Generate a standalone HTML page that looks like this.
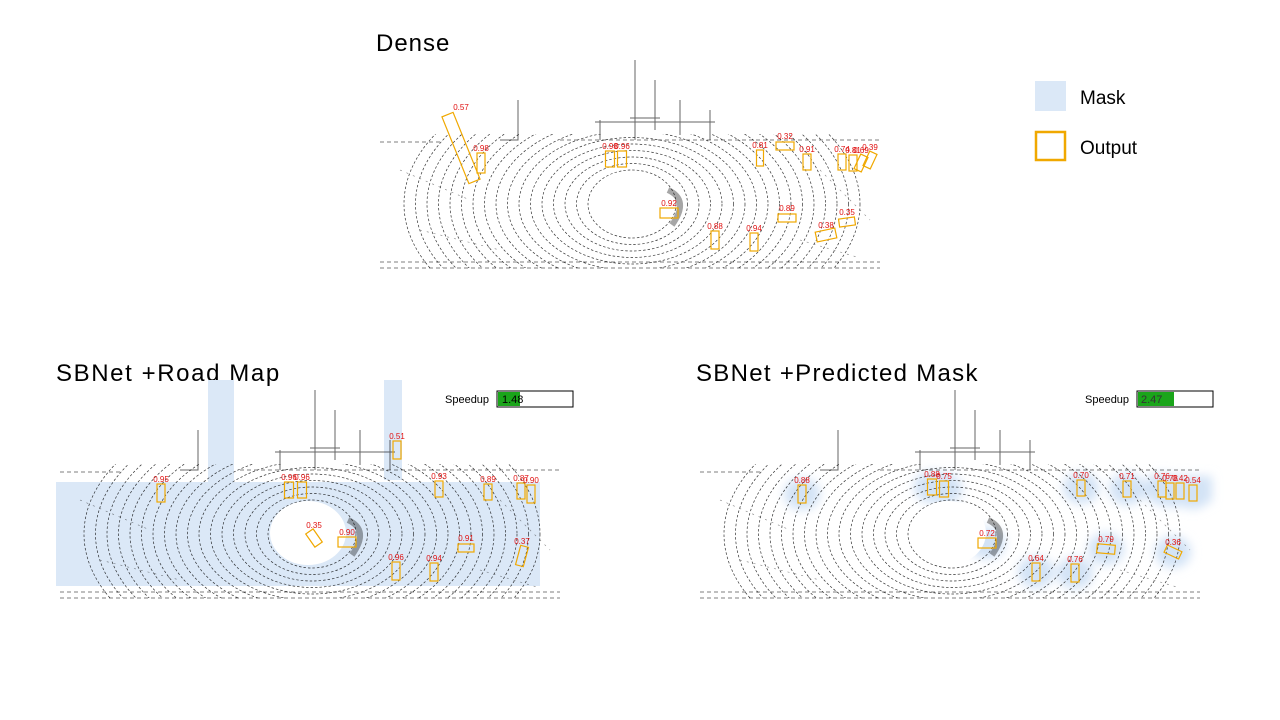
<!DOCTYPE html>
<html><head><meta charset="utf-8"><style>
html,body{margin:0;padding:0;background:#fff;}
svg{display:block;font-family:"Liberation Sans",sans-serif;}
</style></head><body>
<svg id="s" width="1280" height="720" viewBox="0 0 1280 720" xmlns="http://www.w3.org/2000/svg">
<defs>
<filter id="blur" x="-50%" y="-50%" width="200%" height="200%"><feGaussianBlur stdDeviation="5"/></filter>
<clipPath id="ring"><rect x="380" y="134" width="500" height="134"/></clipPath>
<clipPath id="c0"><rect x="378" y="60" width="505" height="212"/></clipPath>
<clipPath id="c1"><rect x="58" y="390" width="505" height="212"/></clipPath>
<clipPath id="c2"><rect x="698" y="390" width="505" height="212"/></clipPath>
</defs>
<text x="376" y="51" font-size="24" letter-spacing="1" fill="#000">Dense</text>
<text x="56" y="381" font-size="24" letter-spacing="1.6" fill="#000">SBNet +Road Map</text>
<text x="696" y="381" font-size="24" letter-spacing="1.3" fill="#000">SBNet +Predicted Mask</text>
<g>
<rect x="1035" y="81" width="31" height="30" fill="#dbe8f7"/>
<text x="1080" y="104" font-size="19">Mask</text>
<rect x="1036" y="132" width="29" height="28" fill="none" stroke="#f0a800" stroke-width="2.5"/>
<text x="1080" y="154" font-size="19">Output</text>
</g>
<g id="masks"></g>
<g id="clouds"></g>
<g id="boxes"></g>
<g>
<text x="445" y="403" font-size="11">Speedup</text>
<rect x="497" y="391" width="76" height="16" fill="#fff" stroke="#000"/>
<rect x="498" y="392" width="22" height="14" fill="#1aa51a"/>
<text x="502" y="403" font-size="11">1.48</text>
</g>
<g>
<text x="1085" y="403" font-size="11">Speedup</text>
<rect x="1137" y="391" width="76" height="16" fill="#fff" stroke="#000"/>
<rect x="1138" y="392" width="36" height="14" fill="#1aa51a"/>
<text x="1141" y="403" font-size="11" fill="#333">2.47</text>
</g>
</svg>
<script>
const NS="http://www.w3.org/2000/svg";
function mk(t,a,p){const e=document.createElementNS(NS,t);for(const k in a)e.setAttribute(k,a[k]);p.appendChild(e);return e;}
const panelDx=[0,-320,320];
const panelDy=[0,330,330];
const denseX=[461,481,610,622,760,785,807,842,853,861,870,669,787,847,826,715,754];
const denseY=[148,163,159,159,158,146,162,162,163,163,160,213,218,222,235,240,242];
const denseW=[12,8,9,9,7,18,8,8,8,8,8,18,18,16,20,8,8];
const denseH=[72,20,16,16,16,8,16,16,16,16,16,10,8,8,10,18,18];
const denseA=[-22,0,0,0,0,0,0,0,0,25,25,0,0,-8,-12,0,0];
const denseS=["0.57","0.98","0.98","0.96","0.81","0.32","0.91","0.74","0.81","0.69","0.39","0.92","0.89","0.35","0.38","0.88","0.94"];
const roadX=[161,397,289,302,439,488,521,531,314,347,466,522,396,434];
const roadY=[493,450,490,490,489,492,491,494,538,542,548,556,571,572];
const roadW=[8,8,9,9,8,8,8,8,9,18,16,8,8,8];
const roadH=[18,18,16,16,16,16,16,18,16,10,8,20,18,18];
const roadA=[0,0,0,0,0,0,0,0,-35,0,0,15,0,0];
const roadS=["0.95","0.51","0.96","0.96","0.93","0.89","0.87","0.90","0.35","0.90","0.91","0.37","0.96","0.94"];
const predX=[802,932,944,1081,1127,1162,1170,1180,1193,987,1106,1173,1036,1075];
const predY=[494,487,489,488,489,489,491,491,493,543,549,552,572,573];
const predW=[8,9,9,8,8,8,8,8,8,18,18,16,8,8];
const predH=[18,16,16,16,16,16,16,16,16,10,9,8,18,18];
const predA=[0,0,0,0,0,0,0,0,0,0,5,25,0,0];
const predS=["0.88","0.88","0.75","0.70","0.71","0.76","0.78","0.42","0.54","0.72","0.79","0.36","0.64","0.76"];

const M=document.getElementById('masks');
let r;
r=mk('rect',{x:56,y:482,width:484,height:104,fill:'#dbe8f7'},M);


r=mk('rect',{x:208,y:380,width:26,height:104,fill:'#dbe8f7'},M);


r=mk('rect',{x:384,y:380,width:18,height:100,fill:'#dbe8f7'},M);


const pg=mk('g',{filter:'url(#blur)'},M);
for(let i=0;i<predX.length;i++){
  const e=mk('ellipse',{cx:predX[i],cy:predY[i],rx:18,ry:16,fill:'#d3e3f6'},pg);
  
  
}
mk('rect',{x:1150,y:476,width:62,height:26,fill:'#d3e3f6'},pg);

const C=document.getElementById('clouds');
for(let p=0;p<3;p++){
  const g=mk('g',{'clip-path':'url(#c'+p+')'},C);
  
  
  const t=mk('g',{transform:'translate('+panelDx[p]+','+panelDy[p]+')',fill:'none',stroke:'#000'},g);
  const rg=mk('g',{'clip-path':'url(#ring)'},t);
  for(let k=0;k<17;k++){
    const rx=44+k*11.5, ry=34+k*6.5;
    mk('ellipse',{cx:632,cy:204,rx:rx,ry:ry,'stroke-width':0.7,'stroke-dasharray':'2.5 2','stroke-opacity':0.8},rg);
  }
  mk('ellipse',{cx:628,cy:203,rx:38,ry:32,fill:'#fff',stroke:'none'},t);
  mk('path',{d:'M668 190 Q690 200 672 225',stroke:'#000','stroke-width':6,'stroke-opacity':0.35,fill:'none'},t);
  mk('path',{d:'M380 142 H440 M560 140 H880 M380 262 H880 M380 268 H880',stroke:'#000','stroke-width':1,'stroke-dasharray':'4 3','stroke-opacity':0.5},t);
  mk('path',{d:'M518 100 V140 H500 M635 60 V140 M655 80 V130 M680 100 V135 M710 110 V140 M600 120 V140 M595 122 H715 M630 118 H660',stroke:'#000','stroke-width':1,'stroke-opacity':0.6},t);
  mk('path',{d:'M400 170 L470 200 M420 230 L500 250 M820 170 L870 220 M800 240 L860 258',stroke:'#000','stroke-width':0.6,'stroke-dasharray':'2 5','stroke-opacity':0.5},t);
}

const B=document.getElementById('boxes');
function drawBoxes(X,Y,W,H,A,S,name){
  for(let i=0;i<X.length;i++){
    const rc=mk('rect',{x:X[i]-W[i]/2,y:Y[i]-H[i]/2,width:W[i],height:H[i],fill:'none',stroke:'#f0a800','stroke-width':1.2,transform:'rotate('+A[i]+' '+X[i]+' '+Y[i]+')'},B);
    
    
    const tx=mk('text',{x:X[i],y:Y[i]-Math.max(H[i],10)/2-2,'font-size':8,fill:'#e01010','text-anchor':'middle'},B);
    tx.textContent=S[i];
    
    
  }
}
drawBoxes(denseX,denseY,denseW,denseH,denseA,denseS,'dense');
drawBoxes(roadX,roadY,roadW,roadH,roadA,roadS,'roadmap');
drawBoxes(predX,predY,predW,predH,predA,predS,'predicted');
</script>
</body></html>
